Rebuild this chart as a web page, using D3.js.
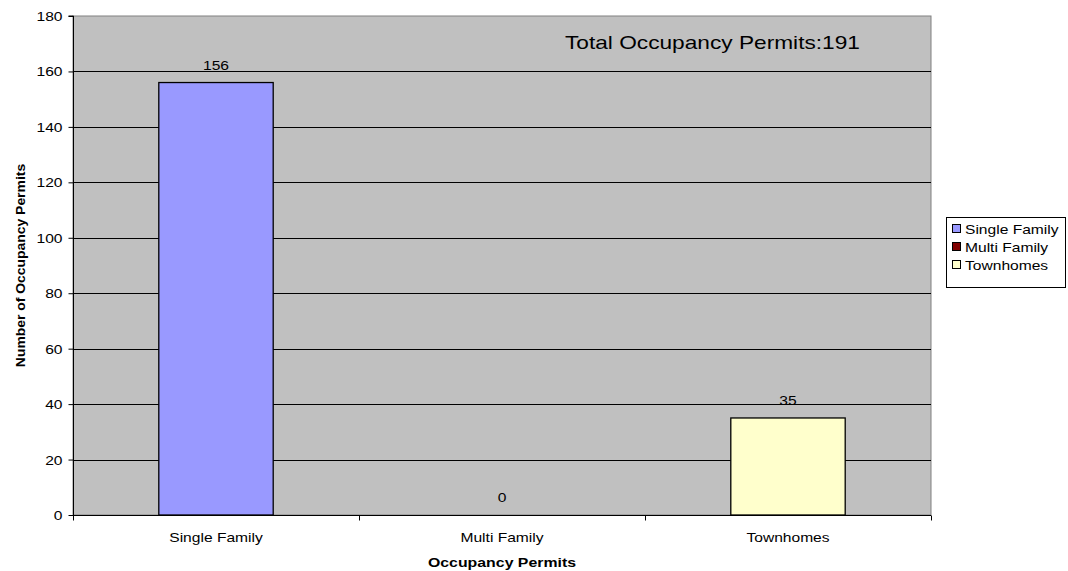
<!DOCTYPE html>
<html><head><meta charset="utf-8">
<script src="https://cdn.jsdelivr.net/npm/d3@7"></script>
<style>body{margin:0;background:#fff;font-family:"Liberation Sans",Arial,sans-serif;}</style>
</head><body><svg id="c" width="1068" height="571"></svg>
<script>
const categories = ["Single Family", "Multi Family", "Townhomes"];
const values = [156, 0, 35];
const colors = ["#9999FF", "#800000", "#FFFFCC"];
const yTicks = [0, 20, 40, 60, 80, 100, 120, 140, 160, 180];
const totalLabel = "Total Occupancy Permits:191";

const svg = d3.select("#c");
const m = {l: 73, t: 16, r: 931, b: 515};
const x = d3.scaleBand().domain(categories).range([m.l, m.r]).paddingInner(0).paddingOuter(0);
const y = d3.scaleLinear().domain([0, 180]).range([m.b, m.t]);
const font = '"Liberation Sans",Arial,sans-serif';
const SX = 1.2;

// place text at (px,py) stretched horizontally
function stretch(sel, sx, rot) {
  sel.each(function () {
    const t = d3.select(this);
    const px = +t.attr("x"), py = +t.attr("y");
    t.attr("x", 0).attr("y", 0)
     .attr("transform", `translate(${px},${py})${rot ? ` rotate(${rot})` : ""} scale(${sx},1)`);
  });
}

svg.append("rect").attr("x", m.l).attr("y", m.t).attr("width", m.r - m.l).attr("height", m.b - m.t)
  .attr("fill", "#C0C0C0").attr("stroke", "#808080").attr("stroke-width", 1);

// gridlines
svg.append("g").selectAll("line").data(yTicks.filter(d => d > 0 && d < 180)).join("line")
  .attr("x1", m.l).attr("x2", m.r).attr("y1", d => Math.round(y(d)) + 0.5).attr("y2", d => Math.round(y(d)) + 0.5)
  .attr("stroke", "#000").attr("stroke-width", 1);

// bars
const bw = x.bandwidth() * 0.4;
svg.append("g").selectAll("rect").data(categories).join("rect")
  .attr("x", (d) => x(d) + (x.bandwidth() - bw) / 2)
  .attr("y", (d, i) => y(values[i]))
  .attr("width", bw)
  .attr("height", (d, i) => y(0) - y(values[i]))
  .attr("fill", (d, i) => colors[i])
  .attr("stroke", (d, i) => values[i] > 0 ? "#000" : "none").attr("stroke-width", 1.3);

// value labels
svg.append("g").selectAll("text").data(categories).join("text")
  .attr("x", d => x(d) + x.bandwidth() / 2)
  .attr("y", (d, i) => y(values[i]) - 13)
  .attr("text-anchor", "middle").attr("font-family", font).attr("font-size", 13).attr("fill", "#000")
  .text((d, i) => values[i])
  .call(s => stretch(s, SX));

// y axis
const ya = d3.axisLeft(y).tickValues(yTicks).tickSize(5).tickPadding(8);
const yg = svg.append("g").attr("transform", `translate(${m.l + 0.5},0)`).call(ya);
yg.select(".domain").attr("stroke", "#000").attr("d", `M-5,${m.t}H0V${m.b}`);
yg.selectAll(".tick line").attr("stroke", "#000");
yg.selectAll(".tick text").attr("font-family", font).attr("font-size", 13).attr("fill", "#000")
  .attr("transform", `scale(${SX},1)`).attr("x", -11 / SX).attr("dy", "0.35em");

// x axis
const xg = svg.append("g").attr("transform", `translate(0,${m.b + 0.5})`);
xg.append("line").attr("x1", m.l).attr("x2", m.r).attr("stroke", "#000");
const bounds = [m.l, ...categories.map(c => x(c) + x.bandwidth())];
xg.selectAll("line.t").data(bounds).join("line").attr("class", "t")
  .attr("x1", d => Math.round(d) + 0.5).attr("x2", d => Math.round(d) + 0.5).attr("y1", 0).attr("y2", 5).attr("stroke", "#000");
xg.selectAll("text").data(categories).join("text")
  .attr("x", d => x(d) + x.bandwidth() / 2).attr("y", 26)
  .attr("text-anchor", "middle").attr("font-family", font).attr("font-size", 13).attr("fill", "#000").text(d => d)
  .call(s => stretch(s, SX));

// axis titles
svg.append("text").attr("x", (m.l + m.r) / 2).attr("y", 567).attr("text-anchor", "middle")
  .attr("font-family", font).attr("font-size", 13).attr("font-weight", "bold").text("Occupancy Permits")
  .call(s => stretch(s, 1.22));
svg.append("text").attr("x", 25).attr("y", (m.t + m.b) / 2).attr("text-anchor", "middle")
  .attr("font-family", font).attr("font-size", 12).attr("font-weight", "bold").text("Number of Occupancy Permits")
  .call(s => stretch(s, 1.16, -90));

// total label
svg.append("text").attr("x", 565).attr("y", 49).attr("font-family", font).attr("font-size", 18).attr("fill", "#000").text(totalLabel)
  .call(s => stretch(s, 1.26));

// legend
const lg = svg.append("g");
lg.append("rect").attr("x", 946.5).attr("y", 217.5).attr("width", 119).attr("height", 70).attr("fill", "#fff").attr("stroke", "#000");
const li = lg.selectAll("g").data(categories).join("g").attr("transform", (d, i) => `translate(952,${229 + i * 18})`);
li.append("rect").attr("x", 0.5).attr("y", -4.5).attr("width", 8).attr("height", 8).attr("fill", (d, i) => colors[i]).attr("stroke", "#000");
li.append("text").attr("x", 13).attr("y", 5).attr("font-family", font).attr("font-size", 13).text(d => d)
  .call(s => stretch(s, SX));
</script></body></html>
